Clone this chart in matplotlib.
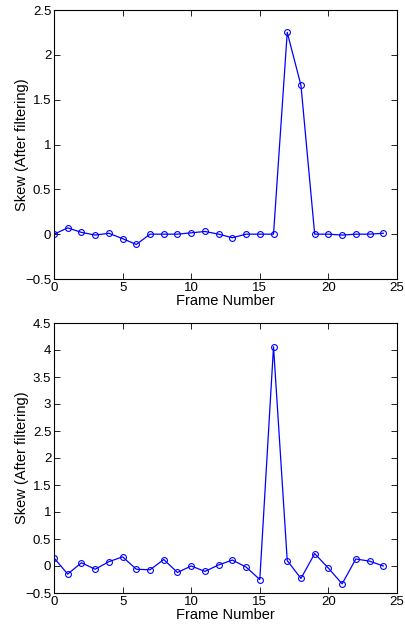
import numpy as np
import matplotlib.pyplot as plt

plt.rcParams['font.family'] = ['Liberation Sans', 'DejaVu Sans']

frames = np.arange(25)

# skew after filtering, first sequence
skew_top = [0.0, 0.07, 0.02, -0.01, 0.01, -0.05, -0.115, 0.0, 0.0, 0.0,
            0.015, 0.03, 0.0, -0.04, 0.0, 0.0, 0.0, 2.25, 1.66, 0.0,
            0.0, -0.01, 0.0, 0.0, 0.01]

# skew after filtering, second sequence
skew_bot = [0.15, -0.15, 0.06, -0.06, 0.08, 0.17, -0.06, -0.07, 0.12, -0.12,
            0.0, -0.1, 0.02, 0.11, -0.02, -0.25, 4.06, 0.1, -0.23, 0.23,
            -0.04, -0.33, 0.13, 0.09, 0.0]

fig = plt.figure(figsize=(4.05, 6.26), dpi=100)
W, H = 405, 626

def make_axes(left, top, right, bottom):
    return fig.add_axes([left / W, 1 - bottom / H, (right - left) / W, (bottom - top) / H])

ax1 = make_axes(54, 10, 397, 279)
ax2 = make_axes(54, 323, 397, 593)

for ax, y, ylim, yt in [(ax1, skew_top, (-0.5, 2.5), np.arange(-0.5, 2.51, 0.5)),
                        (ax2, skew_bot, (-0.5, 4.5), np.arange(-0.5, 4.51, 0.5))]:
    ax.plot(frames, y, color='#0000ff', lw=0.9, marker='o', ms=4.2,
            mfc='none', mec='#0000ff', mew=0.8)
    ax.set_xlim(0, 25)
    ax.set_ylim(*ylim)
    ax.set_xticks(np.arange(0, 26, 5))
    ax.set_yticks(yt)
    ax.set_yticklabels(['%g' % v if v != -0.5 else '\u22120.5' for v in yt])
    ax.tick_params(direction='in', top=True, right=True, labelsize=9.5,
                   length=4, width=0.6, pad=2)
    for s in ax.spines.values():
        s.set_linewidth(0.8)
    ax.set_xlabel('Frame Number', fontsize=10.5, labelpad=0)
    ax.set_ylabel('Skew (After filtering)', fontsize=10.5, labelpad=-3)

fig.savefig('out.png', dpi=100)
